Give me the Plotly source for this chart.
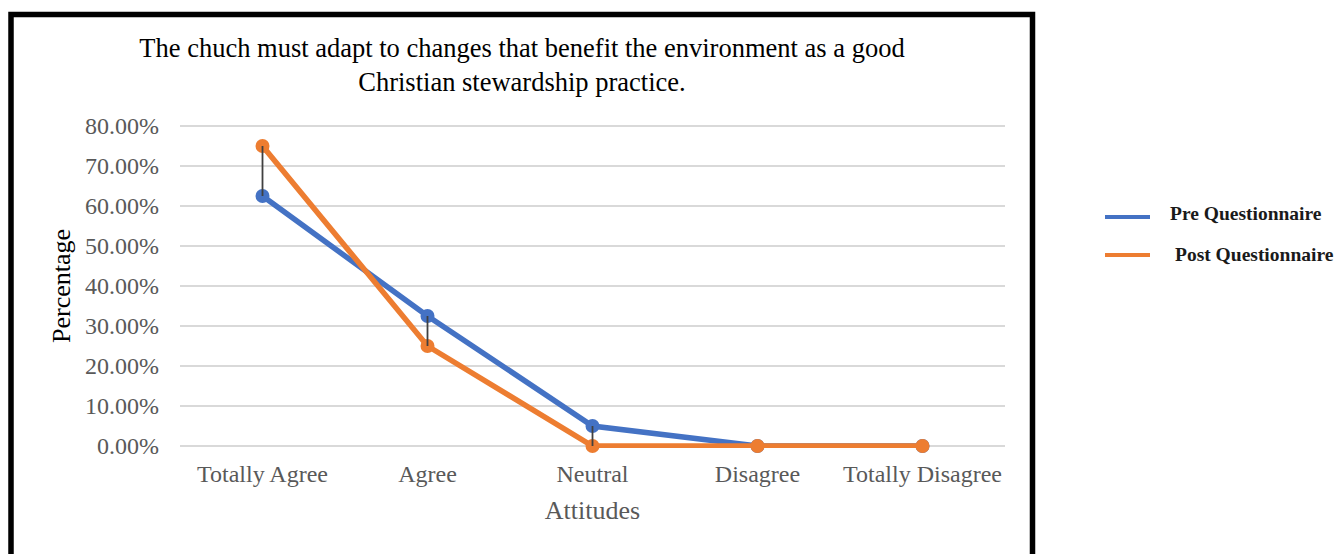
import plotly.graph_objects as go

# Survey responses, share of respondents per attitude
attitudes = ["Totally Agree", "Agree", "Neutral", "Disagree", "Totally Disagree"]
pre_questionnaire = [0.625, 0.325, 0.05, 0.0, 0.0]
post_questionnaire = [0.75, 0.25, 0.0, 0.0, 0.0]
y_ticks = [0.0, 0.1, 0.2, 0.3, 0.4, 0.5, 0.6, 0.7, 0.8]

BLUE = "#4472C4"
ORANGE = "#ED7D31"
SERIF = "Liberation Serif, Times New Roman, serif"

W, H = 1339, 554
# Plot area padded by 2px top and bottom so the 0% and 80% grid lines are kept
L, R, T, B = 180, 334, 124, 106
PW, PH = W - L - R, H - T - B
Y_RANGE = [-0.005, 0.805]


def px_x(px):
    return (px - L) / PW


def px_y(py):
    return (H - B - py) / PH


fig = go.Figure()

fig.add_trace(go.Scatter(
    x=attitudes, y=pre_questionnaire, name="Pre Questionnaire",
    mode="lines+markers",
    line=dict(color=BLUE, width=5.5),
    marker=dict(color=BLUE, size=14),
    cliponaxis=False, showlegend=False,
))
fig.add_trace(go.Scatter(
    x=attitudes, y=post_questionnaire, name="Post Questionnaire",
    mode="lines+markers",
    line=dict(color=ORANGE, width=5.5),
    marker=dict(color=ORANGE, size=14),
    cliponaxis=False, showlegend=False,
))

# High-low lines joining the two series at each attitude
hl_x, hl_y = [], []
for cat, a, b in zip(attitudes, pre_questionnaire, post_questionnaire):
    hl_x += [cat, cat, None]
    hl_y += [a, b, None]
fig.add_trace(go.Scatter(
    x=hl_x, y=hl_y, mode="lines",
    line=dict(color="#404040", width=1.8),
    cliponaxis=False, hoverinfo="skip", showlegend=False,
))

# Chart frame
fig.add_shape(
    type="rect", xref="paper", yref="paper",
    x0=px_x(11), x1=px_x(1032.5), y0=px_y(575), y1=px_y(14.5),
    line=dict(color="black", width=5.5), fillcolor="rgba(0,0,0,0)",
    layer="above",
)

# Legend drawn beside the frame
legend_items = [
    ("Pre Questionnaire", BLUE, 217, 213, 1168),
    ("Post Questionnaire", ORANGE, 255, 254, 1173),
]
for label, color, line_y, text_y, text_x in legend_items:
    fig.add_shape(
        type="line", xref="paper", yref="paper",
        x0=px_x(1105), x1=px_x(1150), y0=px_y(line_y), y1=px_y(line_y),
        line=dict(color=color, width=4),
    )
    fig.add_annotation(
        xref="paper", yref="paper", x=px_x(text_x), y=px_y(text_y),
        xanchor="left", yanchor="middle", showarrow=False,
        text=f"<b>{label}</b>",
        font=dict(family=SERIF, size=19.5, color="#1a1a1a"),
    )

fig.update_layout(
    width=W, height=H,
    margin=dict(l=L, r=R, t=T, b=B),
    paper_bgcolor="white", plot_bgcolor="white",
    font=dict(family=SERIF, color="#595959"),
    title=dict(
        text="The chuch must adapt to changes that benefit the environment as a good<br>"
             "Christian stewardship practice.",
        font=dict(family=SERIF, size=26.5, color="black"),
        x=522 / W, xanchor="center",
        yref="container", y=1 - 57 / H, yanchor="top",
    ),
    xaxis=dict(
        type="category", range=[-0.5, 4.5],
        showgrid=False, showline=False, zeroline=False, ticks="",
        tickfont=dict(family=SERIF, size=24, color="#595959"),
        ticklabelstandoff=9,
        title=dict(text="Attitudes", font=dict(family=SERIF, size=26, color="#595959"),
                   standoff=14),
    ),
    yaxis=dict(
        range=Y_RANGE, tickvals=y_ticks, tickformat=".2%",
        showgrid=True, gridcolor="#d9d9d9", gridwidth=1.5,
        showline=False, zeroline=False, ticks="",
        tickfont=dict(family=SERIF, size=24, color="#595959"),
        ticklabelstandoff=20,
        title=dict(text="Percentage", font=dict(family=SERIF, size=26, color="black"),
                   standoff=6),
    ),
)

fig.write_html("out.html")
